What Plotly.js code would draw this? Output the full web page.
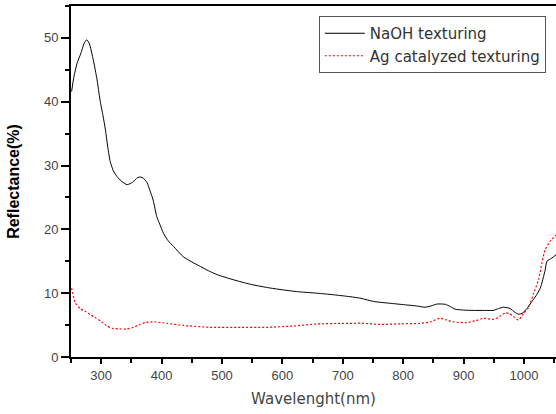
<!DOCTYPE html>
<html>
<head>
<meta charset="utf-8">
<script src="https://cdn.plot.ly/plotly-3.0.1.min.js"></script>
<style>html,body{margin:0;padding:0;background:#fff;}#chart{width:556px;height:414px;}</style>
</head>
<body>
<div id="chart"></div>
<script>
// NaOH texturing
var wlNaOH = [251,255,260,266,272,276,280,287,293,298,303,307,311,315,320,326,333,343,352,360,365,370,376,381,386,392,397,403,411,420,436,450,464,478,492,519,547,574,602,629,657,685,712,730,751,780,806,822,836,846,856,870,878,886,900,916,935,949,958,966,977,985,991,997,1005,1013,1020,1027,1035,1038,1046,1053];
var rNaOH = [41.6,44.0,46.0,47.5,49.2,49.7,49.2,46.5,43.5,40.3,37.8,35.6,32.8,30.6,29.2,28.3,27.6,27.0,27.4,28.1,28.2,28.0,27.3,26.0,24.6,22.0,20.8,19.4,18.2,17.3,15.7,14.9,14.2,13.5,12.9,12.1,11.4,10.9,10.5,10.2,10.0,9.75,9.45,9.2,8.7,8.4,8.15,8.0,7.8,8.0,8.3,8.25,7.9,7.5,7.35,7.3,7.3,7.3,7.6,7.8,7.6,7.0,6.7,6.85,7.6,8.7,9.6,10.8,13.6,15.0,15.5,16.0];
// Ag catalyzed texturing
var wlAg = [251,257,265,273,282,290,301,309,318,330,342,353,362,373,389,409,436,480,530,574,618,657,696,712,730,762,795,828,845,861,872,883,905,920,933,950,960,969,976,983,991,999,1007,1016,1024,1030,1035,1043,1053];
var rAg = [10.8,8.5,7.6,7.2,6.6,6.2,5.5,4.9,4.5,4.4,4.39,4.65,5.0,5.4,5.5,5.27,4.96,4.65,4.65,4.65,4.86,5.17,5.27,5.27,5.3,5.1,5.2,5.27,5.5,6.07,5.8,5.5,5.4,5.7,6.07,5.9,6.4,6.9,6.8,6.3,5.8,6.85,7.6,10.0,12.1,14.9,16.8,18.1,19.1];
var seriesNames = ["NaOH texturing", "Ag catalyzed texturing"];
var xTitle = "Wavelenght(nm)";
var yTitle = "Reflectance(%)";

var traces = [
  {x: wlNaOH, y: rNaOH, name: seriesNames[0], type: 'scatter', mode: 'lines',
   line: {color: '#000000', width: 1, shape: 'spline', smoothing: 0.6}},
  {x: wlAg, y: rAg, name: seriesNames[1], type: 'scatter', mode: 'lines',
   line: {color: '#ff0000', width: 1.2, dash: '2px,2px', shape: 'spline', smoothing: 0.6}}
];

var layout = {
  width: 556, height: 414,
  margin: {l: 71, r: 0, t: 6, b: 57},
  paper_bgcolor: '#ffffff', plot_bgcolor: '#ffffff',
  showlegend: true,
  legend: {
    x: 0.511, y: 0.9715, xanchor: 'left', yanchor: 'top',
    bgcolor: '#ffffff', bordercolor: '#555555', borderwidth: 1,
    font: {family: 'DejaVu Sans', size: 15, color: '#333333'},
    tracegroupgap: 0, itemwidth: 40
  },
  xaxis: {
    range: [250, 1053], dtick: 100, tick0: 300,
    showgrid: false, zeroline: false,
    showline: true, linecolor: '#000', linewidth: 2, mirror: true,
    ticks: 'outside', ticklen: 5, tickwidth: 2, tickcolor: '#000',
    minor: {dtick: 50, ticks: 'outside', ticklen: 4, tickwidth: 2, tickcolor: '#000', showgrid: false},
    tickfont: {family: 'Liberation Sans', size: 13, color: '#444444'},
    title: {text: xTitle, standoff: 12, font: {family: 'DejaVu Sans', size: 15, color: '#444444'}}
  },
  yaxis: {
    range: [0, 55], dtick: 10, tick0: 0,
    showgrid: false, zeroline: false,
    showline: true, linecolor: '#000', linewidth: 2,
    ticks: 'outside', ticklen: 8, tickwidth: 2, tickcolor: '#000',
    minor: {dtick: 5, ticks: 'outside', ticklen: 4, tickwidth: 2, tickcolor: '#000', showgrid: false},
    tickfont: {family: 'Liberation Sans', size: 13, color: '#444444'},
    title: {text: yTitle, standoff: 20, font: {family: 'Liberation Sans', size: 16, color: '#000000', weight: 'bold'}}
  }
};

Plotly.newPlot('chart', traces, layout, {displayModeBar: false, staticPlot: true});
</script>
</body>
</html>
